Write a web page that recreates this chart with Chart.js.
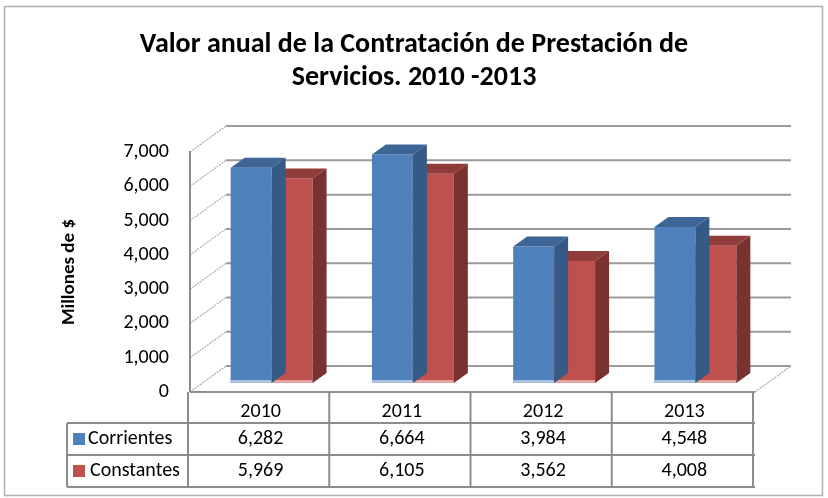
<!DOCTYPE html>
<html>
<head>
<meta charset="utf-8">
<script src="https://cdn.jsdelivr.net/npm/chart.js@4.4.0/dist/chart.umd.min.js"></script>
<style>
  body { margin: 0; background: #fff; }
  #wrap { width: 828px; height: 498px; }
</style>
</head>
<body>
<div id="wrap"><canvas id="contratos" width="828" height="498"></canvas></div>
<script>
const years = ['2010', '2011', '2012', '2013'];
const corrientes = [6282, 6664, 3984, 4548];
const constantes = [5969, 6105, 3562, 4008];
const seriesNames = ['Corrientes', 'Constantes'];
const yMax = 7000;
const yStep = 1000;

const FONT = "Carlito, Lato, 'Open Sans', sans-serif";
const frontColor = ['#4F81BD', '#C0504D'];
const topColor = ['#3D6595', '#8F3C3A'];
const sideColor = ['#365A86', '#7A3230'];
const stripColor = ['#A9C1DF', '#E2A3A1'];

// depth of the floor/walls box and of the bars inside it
const WALL = { dx: 36, dy: -26 };
const BAR_SHIFT = { dx: 11, dy: -9 };
const BAR_DEPTH = { dx: 14, dy: -10 };

function line(ctx, x1, y1, x2, y2) {
    ctx.beginPath();
    ctx.moveTo(x1, y1);
    ctx.lineTo(x2, y2);
    ctx.stroke();
}

const box3d = {
    id: 'box3d',
    beforeDraw(chart) {
        const ctx = chart.ctx;
        ctx.save();
        ctx.fillStyle = '#fff';
        ctx.fillRect(0, 0, chart.width, chart.height);
        ctx.strokeStyle = '#b0b0b0';
        ctx.lineWidth = 1.5;
        ctx.strokeRect(4.5, 6.5, 818, 489);
        ctx.restore();
    },
    beforeDatasetsDraw(chart) {
        const { ctx, chartArea: a, scales: { y } } = chart;
        ctx.save();
        // side wall and floor edges (hatched diagonals)
        ctx.strokeStyle = '#ababab';
        ctx.lineWidth = 1.2;
        ctx.setLineDash([2, 1]);
        for (let v = 0; v <= yMax; v += yStep) {
            const py = y.getPixelForValue(v);
            line(ctx, a.left, py, a.left + WALL.dx, py + WALL.dy);
        }
        line(ctx, a.right, a.bottom, a.right + WALL.dx, a.bottom + WALL.dy);
        ctx.setLineDash([]);
        // back wall gridlines
        ctx.strokeStyle = '#9a9a9a';
        ctx.lineWidth = 2;
        for (let v = 0; v <= yMax; v += yStep) {
            const py = y.getPixelForValue(v) + WALL.dy;
            line(ctx, a.left + WALL.dx, py, a.right + WALL.dx, py);
        }
        // front edges of side wall and floor
        ctx.strokeStyle = '#8c8c8c';
        line(ctx, a.left, y.getPixelForValue(yMax) - 1, a.left, a.bottom);
        line(ctx, a.left, a.bottom, a.right, a.bottom);
        ctx.restore();
    },
    beforeDatasetDraw(chart) {
        chart.ctx.save();
        chart.ctx.translate(BAR_SHIFT.dx, BAR_SHIFT.dy);
    },
    afterDatasetDraw(chart, args) {
        const ctx = chart.ctx;
        const i = args.index;
        args.meta.data.forEach(bar => {
            const { x, y, base, width } = bar.getProps(['x', 'y', 'base', 'width'], true);
            const l = x - width / 2, r = x + width / 2;
            // light strip at the foot of the bar
            ctx.fillStyle = stripColor[i];
            ctx.fillRect(l, base - 3, width, 3);
            // top face
            ctx.fillStyle = topColor[i];
            ctx.beginPath();
            ctx.moveTo(l, y);
            ctx.lineTo(l + BAR_DEPTH.dx, y + BAR_DEPTH.dy);
            ctx.lineTo(r + BAR_DEPTH.dx, y + BAR_DEPTH.dy);
            ctx.lineTo(r, y);
            ctx.closePath();
            ctx.fill();
            // side face
            ctx.fillStyle = sideColor[i];
            ctx.beginPath();
            ctx.moveTo(r, y);
            ctx.lineTo(r + BAR_DEPTH.dx, y + BAR_DEPTH.dy);
            ctx.lineTo(r + BAR_DEPTH.dx, base + BAR_DEPTH.dy);
            ctx.lineTo(r, base);
            ctx.closePath();
            ctx.fill();
        });
        ctx.restore();
    },
    afterDraw(chart) {
        // data table under the floor
        const { ctx, chartArea: a, scales: { x } } = chart;
        const colW = (a.right - a.left) / years.length;
        const rowTop = [a.bottom, 423, 455, 487];
        const labelLeft = 67;
        const rows = [corrientes, constantes];
        ctx.save();
        ctx.strokeStyle = '#8c8c8c';
        ctx.lineWidth = 2;
        for (let c = 0; c <= years.length; c++) {
            const px = a.left - 2 + c * colW;
            line(ctx, px, a.bottom, px, rowTop[3]);
        }
        line(ctx, labelLeft, rowTop[1], a.right, rowTop[1]);
        line(ctx, labelLeft, rowTop[2], a.right, rowTop[2]);
        line(ctx, labelLeft, rowTop[3], a.right, rowTop[3]);
        line(ctx, labelLeft, rowTop[1], labelLeft, rowTop[3]);

        ctx.fillStyle = '#000';
        ctx.font = '20px ' + FONT;
        ctx.textAlign = 'center';
        ctx.textBaseline = 'middle';
        years.forEach((yr, c) => {
            const cx = x.getPixelForValue(c);
            ctx.fillText(yr, cx, 412);
            rows.forEach((vals, r) => {
                ctx.fillText(vals[c].toLocaleString('en-US'), cx, (rowTop[r + 1] + rowTop[r + 2]) / 2);
            });
        });
        ctx.textAlign = 'left';
        seriesNames.forEach((name, r) => {
            const cy = (rowTop[r + 1] + rowTop[r + 2]) / 2;
            ctx.fillStyle = frontColor[r];
            ctx.fillRect(73, cy - 6, 12, 12);
            ctx.fillStyle = '#000';
            ctx.fillText(name, 88 + r * 2, cy);
        });
        ctx.restore();
    }
};

new Chart(document.getElementById('contratos').getContext('2d'), {
    type: 'bar',
    data: {
        labels: years,
        datasets: [
            { label: seriesNames[0], data: corrientes, backgroundColor: frontColor[0] },
            { label: seriesNames[1], data: constantes, backgroundColor: frontColor[1] }
        ]
    },
    options: {
        responsive: false,
        animation: false,
        events: [],
        clip: false,
        categoryPercentage: 0.58,
        barPercentage: 1,
        layout: { padding: { left: 0, right: 0, top: 0, bottom: 106 } },
        plugins: {
            legend: { display: false },
            tooltip: { enabled: false },
            title: {
                display: true,
                text: ['Valor anual de la Contratación de Prestación de', 'Servicios. 2010 -2013'],
                color: '#000',
                font: { family: FONT, size: 28, weight: 'bold', lineHeight: 1.18 },
                padding: { top: 28, bottom: 58 }
            }
        },
        scales: {
            x: { display: false },
            y: {
                min: 0,
                max: yMax,
                afterFit: s => { s.width = 190; },
                grid: { display: false, drawTicks: false },
                border: { display: false },
                ticks: {
                    stepSize: yStep,
                    padding: 21,
                    color: '#000',
                    font: { family: FONT, size: 20 }
                },
                title: {
                    display: true,
                    text: 'Millones de $',
                    color: '#000',
                    font: { family: FONT, size: 19, weight: 'bold' },
                    padding: { top: 58, bottom: 0 }
                }
            },
            // empty strip on the right that holds the far side of the box
            rightGap: {
                type: 'linear',
                position: 'right',
                afterFit: s => { s.width = 73; },
                grid: { display: false, drawTicks: false },
                border: { display: false },
                ticks: { display: false }
            }
        }
    },
    plugins: [box3d]
});
</script>
</body>
</html>
